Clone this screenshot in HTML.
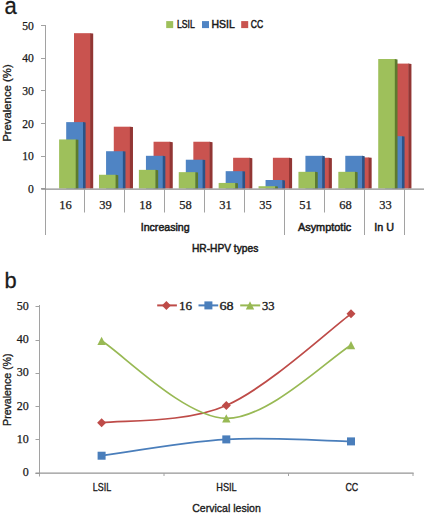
<!DOCTYPE html>
<html><head><meta charset="utf-8"><style>
html,body{margin:0;padding:0;background:#fff;}
body{width:427px;height:513px;overflow:hidden;}
svg{display:block;}
</style></head><body>
<svg width="427" height="513" viewBox="0 0 427 513">
<text transform="translate(4.6 13.8) scale(0.9 1)" font-size="24.5" stroke="#1a1a1a" stroke-width="0.3" fill="#1a1a1a" font-family='"Liberation Sans", sans-serif'>a</text>
<line x1="45.5" y1="25" x2="45.5" y2="235" stroke="#a2a2a2" stroke-width="1"/>
<line x1="41" y1="188.50" x2="45.5" y2="188.50" stroke="#a2a2a2" stroke-width="1"/>
<text x="33.9" y="193.0" font-size="11.6" text-anchor="end" font-weight="normal" fill="#1a1a1a" font-family='"Liberation Serif", serif' stroke="#1a1a1a" stroke-width="0.25">0</text>
<line x1="41" y1="156.50" x2="45.5" y2="156.50" stroke="#a2a2a2" stroke-width="1"/>
<text x="33.9" y="160.3" font-size="11.6" text-anchor="end" font-weight="normal" fill="#1a1a1a" font-family='"Liberation Serif", serif' stroke="#1a1a1a" stroke-width="0.25">10</text>
<line x1="41" y1="123.50" x2="45.5" y2="123.50" stroke="#a2a2a2" stroke-width="1"/>
<text x="33.9" y="127.6" font-size="11.6" text-anchor="end" font-weight="normal" fill="#1a1a1a" font-family='"Liberation Serif", serif' stroke="#1a1a1a" stroke-width="0.25">20</text>
<line x1="41" y1="90.50" x2="45.5" y2="90.50" stroke="#a2a2a2" stroke-width="1"/>
<text x="33.9" y="94.9" font-size="11.6" text-anchor="end" font-weight="normal" fill="#1a1a1a" font-family='"Liberation Serif", serif' stroke="#1a1a1a" stroke-width="0.25">30</text>
<line x1="41" y1="58.50" x2="45.5" y2="58.50" stroke="#a2a2a2" stroke-width="1"/>
<text x="33.9" y="62.19999999999999" font-size="11.6" text-anchor="end" font-weight="normal" fill="#1a1a1a" font-family='"Liberation Serif", serif' stroke="#1a1a1a" stroke-width="0.25">40</text>
<line x1="41" y1="25.50" x2="45.5" y2="25.50" stroke="#a2a2a2" stroke-width="1"/>
<text x="33.9" y="29.5" font-size="11.6" text-anchor="end" font-weight="normal" fill="#1a1a1a" font-family='"Liberation Serif", serif' stroke="#1a1a1a" stroke-width="0.25">50</text>
<text x="10.8" y="103.1" font-size="10" text-anchor="middle" font-weight="normal" fill="#1a1a1a" font-family='"Liberation Sans", sans-serif' stroke="#1a1a1a" stroke-width="0.3" textLength="77.5" lengthAdjust="spacingAndGlyphs" transform="rotate(-90 10.8 103.1)">Prevalence (%)</text>
<rect x="74.00" y="33.18" width="16.5" height="155.32" fill="#c9534f"/>
<polygon points="90.10,33.18 93.20,33.58 93.20,188.5 90.10,188.5" fill="#923634"/>
<rect x="66.20" y="122.12" width="17.2" height="66.38" fill="#4f84c4"/>
<polygon points="83.00,122.12 85.60,122.52 85.60,188.5 83.00,188.5" fill="#2b5387"/>
<rect x="59.10" y="139.45" width="17" height="49.05" fill="#9ec05b"/>
<polygon points="75.70,139.45 78.40,139.85 78.40,188.5 75.70,188.5" fill="#5d7a2e"/>
<rect x="113.78" y="126.70" width="16.5" height="61.80" fill="#c9534f"/>
<polygon points="129.88,126.70 132.98,127.10 132.98,188.5 129.88,188.5" fill="#923634"/>
<rect x="106.07" y="151.22" width="17.2" height="37.28" fill="#4f84c4"/>
<polygon points="122.87,151.22 125.47,151.62 125.47,188.5 122.87,188.5" fill="#2b5387"/>
<rect x="98.99" y="174.77" width="17" height="13.73" fill="#9ec05b"/>
<polygon points="115.59,174.77 118.29,175.17 118.29,188.5 115.59,188.5" fill="#5d7a2e"/>
<rect x="153.56" y="141.74" width="16.5" height="46.76" fill="#c9534f"/>
<polygon points="169.66,141.74 172.76,142.14 172.76,188.5 169.66,188.5" fill="#923634"/>
<rect x="145.94" y="155.80" width="17.2" height="32.70" fill="#4f84c4"/>
<polygon points="162.74,155.80 165.34,156.20 165.34,188.5 162.74,188.5" fill="#2b5387"/>
<rect x="138.88" y="169.86" width="17" height="18.64" fill="#9ec05b"/>
<polygon points="155.48,169.86 158.18,170.26 158.18,188.5 155.48,188.5" fill="#5d7a2e"/>
<rect x="193.34" y="141.74" width="16.5" height="46.76" fill="#c9534f"/>
<polygon points="209.44,141.74 212.54,142.14 212.54,188.5 209.44,188.5" fill="#923634"/>
<rect x="185.81" y="159.72" width="17.2" height="28.78" fill="#4f84c4"/>
<polygon points="202.61,159.72 205.21,160.12 205.21,188.5 202.61,188.5" fill="#2b5387"/>
<rect x="178.77" y="172.15" width="17" height="16.35" fill="#9ec05b"/>
<polygon points="195.37,172.15 198.07,172.55 198.07,188.5 195.37,188.5" fill="#5d7a2e"/>
<rect x="233.12" y="157.76" width="16.5" height="30.74" fill="#c9534f"/>
<polygon points="249.22,157.76 252.32,158.16 252.32,188.5 249.22,188.5" fill="#923634"/>
<rect x="225.68" y="171.17" width="17.2" height="17.33" fill="#4f84c4"/>
<polygon points="242.48,171.17 245.08,171.57 245.08,188.5 242.48,188.5" fill="#2b5387"/>
<rect x="218.66" y="182.94" width="17" height="5.56" fill="#9ec05b"/>
<polygon points="235.26,182.94 237.96,183.34 237.96,188.5 235.26,188.5" fill="#5d7a2e"/>
<rect x="272.90" y="157.76" width="16.5" height="30.74" fill="#c9534f"/>
<polygon points="289.00,157.76 292.10,158.16 292.10,188.5 289.00,188.5" fill="#923634"/>
<rect x="265.55" y="180.00" width="17.2" height="8.50" fill="#4f84c4"/>
<polygon points="282.35,180.00 284.95,180.40 284.95,188.5 282.35,188.5" fill="#2b5387"/>
<rect x="258.55" y="186.21" width="17" height="2.29" fill="#9ec05b"/>
<polygon points="275.15,186.21 277.85,186.61 277.85,188.5 275.15,188.5" fill="#5d7a2e"/>
<rect x="312.68" y="157.76" width="16.5" height="30.74" fill="#c9534f"/>
<polygon points="328.78,157.76 331.88,158.16 331.88,188.5 328.78,188.5" fill="#923634"/>
<rect x="305.42" y="155.80" width="17.2" height="32.70" fill="#4f84c4"/>
<polygon points="322.22,155.80 324.82,156.20 324.82,188.5 322.22,188.5" fill="#2b5387"/>
<rect x="298.44" y="171.82" width="17" height="16.68" fill="#9ec05b"/>
<polygon points="315.04,171.82 317.74,172.22 317.74,188.5 315.04,188.5" fill="#5d7a2e"/>
<rect x="352.46" y="157.44" width="16.5" height="31.06" fill="#c9534f"/>
<polygon points="368.56,157.44 371.66,157.84 371.66,188.5 368.56,188.5" fill="#923634"/>
<rect x="345.29" y="155.80" width="17.2" height="32.70" fill="#4f84c4"/>
<polygon points="362.09,155.80 364.69,156.20 364.69,188.5 362.09,188.5" fill="#2b5387"/>
<rect x="338.33" y="171.82" width="17" height="16.68" fill="#9ec05b"/>
<polygon points="354.93,171.82 357.63,172.22 357.63,188.5 354.93,188.5" fill="#5d7a2e"/>
<rect x="392.24" y="63.59" width="16.5" height="124.91" fill="#c9534f"/>
<polygon points="408.34,63.59 411.44,63.99 411.44,188.5 408.34,188.5" fill="#923634"/>
<rect x="385.16" y="136.18" width="17.2" height="52.32" fill="#4f84c4"/>
<polygon points="401.96,136.18 404.56,136.58 404.56,188.5 401.96,188.5" fill="#2b5387"/>
<rect x="378.22" y="59.01" width="17" height="129.49" fill="#9ec05b"/>
<polygon points="394.82,59.01 397.52,59.41 397.52,188.5 394.82,188.5" fill="#5d7a2e"/>
<line x1="41.2" y1="189.2" x2="424" y2="189.2" stroke="#8e8e8e" stroke-width="1.3"/>
<line x1="84.5" y1="189" x2="84.5" y2="212.5" stroke="#a2a2a2" stroke-width="1"/>
<line x1="124.5" y1="189" x2="124.5" y2="212.5" stroke="#a2a2a2" stroke-width="1"/>
<line x1="164.5" y1="189" x2="164.5" y2="212.5" stroke="#a2a2a2" stroke-width="1"/>
<line x1="204.5" y1="189" x2="204.5" y2="212.5" stroke="#a2a2a2" stroke-width="1"/>
<line x1="244.5" y1="189" x2="244.5" y2="212.5" stroke="#a2a2a2" stroke-width="1"/>
<line x1="284.5" y1="189" x2="284.5" y2="235" stroke="#a2a2a2" stroke-width="1"/>
<line x1="324.5" y1="189" x2="324.5" y2="212.5" stroke="#a2a2a2" stroke-width="1"/>
<line x1="364.5" y1="189" x2="364.5" y2="235" stroke="#a2a2a2" stroke-width="1"/>
<line x1="404.5" y1="189" x2="404.5" y2="235" stroke="#a2a2a2" stroke-width="1"/>
<text x="65.5" y="209" font-size="12.5" text-anchor="middle" font-weight="normal" fill="#1a1a1a" font-family='"Liberation Serif", serif' stroke="#1a1a1a" stroke-width="0.25">16</text>
<text x="105.5" y="209" font-size="12.5" text-anchor="middle" font-weight="normal" fill="#1a1a1a" font-family='"Liberation Serif", serif' stroke="#1a1a1a" stroke-width="0.25">39</text>
<text x="145.5" y="209" font-size="12.5" text-anchor="middle" font-weight="normal" fill="#1a1a1a" font-family='"Liberation Serif", serif' stroke="#1a1a1a" stroke-width="0.25">18</text>
<text x="185.5" y="209" font-size="12.5" text-anchor="middle" font-weight="normal" fill="#1a1a1a" font-family='"Liberation Serif", serif' stroke="#1a1a1a" stroke-width="0.25">58</text>
<text x="225.5" y="209" font-size="12.5" text-anchor="middle" font-weight="normal" fill="#1a1a1a" font-family='"Liberation Serif", serif' stroke="#1a1a1a" stroke-width="0.25">31</text>
<text x="265.5" y="209" font-size="12.5" text-anchor="middle" font-weight="normal" fill="#1a1a1a" font-family='"Liberation Serif", serif' stroke="#1a1a1a" stroke-width="0.25">35</text>
<text x="305.5" y="209" font-size="12.5" text-anchor="middle" font-weight="normal" fill="#1a1a1a" font-family='"Liberation Serif", serif' stroke="#1a1a1a" stroke-width="0.25">51</text>
<text x="345.5" y="209" font-size="12.5" text-anchor="middle" font-weight="normal" fill="#1a1a1a" font-family='"Liberation Serif", serif' stroke="#1a1a1a" stroke-width="0.25">68</text>
<text x="385.5" y="209" font-size="12.5" text-anchor="middle" font-weight="normal" fill="#1a1a1a" font-family='"Liberation Serif", serif' stroke="#1a1a1a" stroke-width="0.25">33</text>
<text x="165.2" y="231" font-size="11" text-anchor="middle" font-weight="normal" fill="#1a1a1a" font-family='"Liberation Sans", sans-serif' stroke="#1a1a1a" stroke-width="0.5" textLength="49" lengthAdjust="spacingAndGlyphs">Increasing</text>
<text x="324.6" y="231" font-size="11" text-anchor="middle" font-weight="normal" fill="#1a1a1a" font-family='"Liberation Sans", sans-serif' stroke="#1a1a1a" stroke-width="0.5" textLength="53.4" lengthAdjust="spacingAndGlyphs">Asymptotic</text>
<text x="384.2" y="231" font-size="11" text-anchor="middle" font-weight="normal" fill="#1a1a1a" font-family='"Liberation Sans", sans-serif' stroke="#1a1a1a" stroke-width="0.5" textLength="19.7" lengthAdjust="spacingAndGlyphs">In U</text>
<text x="225.1" y="252" font-size="11" text-anchor="middle" font-weight="normal" fill="#1a1a1a" font-family='"Liberation Sans", sans-serif' stroke="#1a1a1a" stroke-width="0.5" textLength="66.4" lengthAdjust="spacingAndGlyphs">HR-HPV types</text>
<rect x="166.2" y="21.1" width="7" height="7" fill="#9ec05b"/>
<text x="177" y="28.1" font-size="11" text-anchor="start" font-weight="normal" fill="#1a1a1a" font-family='"Liberation Sans", sans-serif' stroke="#1a1a1a" stroke-width="0.5" textLength="17.8" lengthAdjust="spacingAndGlyphs">LSIL</text>
<rect x="202" y="21.1" width="7" height="7" fill="#4f84c4"/>
<text x="211.5" y="28.1" font-size="11" text-anchor="start" font-weight="normal" fill="#1a1a1a" font-family='"Liberation Sans", sans-serif' stroke="#1a1a1a" stroke-width="0.5" textLength="23.2" lengthAdjust="spacingAndGlyphs">HSIL</text>
<rect x="241.2" y="21.1" width="7" height="7" fill="#c9534f"/>
<text x="250.7" y="28.1" font-size="11" text-anchor="start" font-weight="normal" fill="#1a1a1a" font-family='"Liberation Sans", sans-serif' stroke="#1a1a1a" stroke-width="0.5" textLength="12.4" lengthAdjust="spacingAndGlyphs">CC</text>
<text transform="translate(4.4 288.1) scale(0.97 1)" font-size="22.5" stroke="#1a1a1a" stroke-width="0.3" fill="#1a1a1a" font-family='"Liberation Sans", sans-serif'>b</text>
<line x1="39.5" y1="305" x2="39.5" y2="476.5" stroke="#a2a2a2" stroke-width="1"/>
<line x1="35.5" y1="473.50" x2="39.5" y2="473.50" stroke="#a2a2a2" stroke-width="1"/>
<text x="28.8" y="476.2" font-size="12" text-anchor="end" font-weight="normal" fill="#1a1a1a" font-family='"Liberation Serif", serif' stroke="#1a1a1a" stroke-width="0.25">0</text>
<line x1="35.5" y1="439.50" x2="39.5" y2="439.50" stroke="#a2a2a2" stroke-width="1"/>
<text x="28.8" y="442.9" font-size="12" text-anchor="end" font-weight="normal" fill="#1a1a1a" font-family='"Liberation Serif", serif' stroke="#1a1a1a" stroke-width="0.25">10</text>
<line x1="35.5" y1="406.50" x2="39.5" y2="406.50" stroke="#a2a2a2" stroke-width="1"/>
<text x="28.8" y="409.6" font-size="12" text-anchor="end" font-weight="normal" fill="#1a1a1a" font-family='"Liberation Serif", serif' stroke="#1a1a1a" stroke-width="0.25">20</text>
<line x1="35.5" y1="373.50" x2="39.5" y2="373.50" stroke="#a2a2a2" stroke-width="1"/>
<text x="28.8" y="376.29999999999995" font-size="12" text-anchor="end" font-weight="normal" fill="#1a1a1a" font-family='"Liberation Serif", serif' stroke="#1a1a1a" stroke-width="0.25">30</text>
<line x1="35.5" y1="340.50" x2="39.5" y2="340.50" stroke="#a2a2a2" stroke-width="1"/>
<text x="28.8" y="343.0" font-size="12" text-anchor="end" font-weight="normal" fill="#1a1a1a" font-family='"Liberation Serif", serif' stroke="#1a1a1a" stroke-width="0.25">40</text>
<line x1="35.5" y1="306.50" x2="39.5" y2="306.50" stroke="#a2a2a2" stroke-width="1"/>
<text x="28.8" y="309.7" font-size="12" text-anchor="end" font-weight="normal" fill="#1a1a1a" font-family='"Liberation Serif", serif' stroke="#1a1a1a" stroke-width="0.25">50</text>
<text x="10.9" y="389.7" font-size="10" text-anchor="middle" font-weight="normal" fill="#1a1a1a" font-family='"Liberation Sans", sans-serif' stroke="#1a1a1a" stroke-width="0.3" textLength="72.5" lengthAdjust="spacingAndGlyphs" transform="rotate(-90 10.9 389.7)">Prevalence (%)</text>
<line x1="35.5" y1="473.1" x2="413.6" y2="473.1" stroke="#959595" stroke-width="1.4"/>
<line x1="164" y1="473" x2="164" y2="476" stroke="#a2a2a2" stroke-width="1"/>
<line x1="288.5" y1="473" x2="288.5" y2="476" stroke="#a2a2a2" stroke-width="1"/>
<line x1="413" y1="473" x2="413" y2="476" stroke="#a2a2a2" stroke-width="1"/>
<text x="102" y="491.4" font-size="11" text-anchor="middle" font-weight="normal" fill="#1a1a1a" font-family='"Liberation Sans", sans-serif' stroke="#1a1a1a" stroke-width="0.35" textLength="18.3" lengthAdjust="spacingAndGlyphs">LSIL</text>
<text x="226.5" y="491.4" font-size="11" text-anchor="middle" font-weight="normal" fill="#1a1a1a" font-family='"Liberation Sans", sans-serif' stroke="#1a1a1a" stroke-width="0.35" textLength="20.4" lengthAdjust="spacingAndGlyphs">HSIL</text>
<text x="351.8" y="491.4" font-size="11" text-anchor="middle" font-weight="normal" fill="#1a1a1a" font-family='"Liberation Sans", sans-serif' stroke="#1a1a1a" stroke-width="0.35" textLength="12.8" lengthAdjust="spacingAndGlyphs">CC</text>
<text x="226.5" y="511.8" font-size="11" text-anchor="middle" font-weight="normal" fill="#1a1a1a" font-family='"Liberation Sans", sans-serif' stroke="#1a1a1a" stroke-width="0.35" textLength="68.6" lengthAdjust="spacingAndGlyphs">Cervical lesion</text>
<path d="M101.60,422.75 C122.38,419.86 184.73,423.58 226.30,405.43 C267.87,387.29 330.22,329.12 351.00,313.86" fill="none" stroke="#be4b48" stroke-width="1.75"/>
<path d="M101.60,455.72 C122.38,453.00 184.73,441.79 226.30,439.40 C267.87,437.01 330.22,441.06 351.00,441.40" fill="none" stroke="#4a7ebb" stroke-width="1.75"/>
<path d="M101.60,340.83 C122.38,353.76 184.73,417.70 226.30,418.42 C267.87,419.14 330.22,357.37 351.00,345.16" fill="none" stroke="#98b954" stroke-width="1.75"/>
<polygon points="101.6,418.25 106.1,422.75 101.6,427.25 97.1,422.75" fill="#be4b48"/>
<polygon points="226.3,400.93399999999997 230.8,405.43399999999997 226.3,409.93399999999997 221.8,405.43399999999997" fill="#be4b48"/>
<polygon points="351,309.359 355.5,313.859 351,318.359 346.5,313.859" fill="#be4b48"/>
<rect x="97.6" y="451.717" width="8" height="8" fill="#4a7ebb"/>
<rect x="222.3" y="435.4" width="8" height="8" fill="#4a7ebb"/>
<rect x="347" y="437.39799999999997" width="8" height="8" fill="#4a7ebb"/>
<polygon points="101.6,336.632 105.8,345.032 97.39999999999999,345.032" fill="#98b954"/>
<polygon points="226.3,414.221 230.5,422.621 222.10000000000002,422.621" fill="#98b954"/>
<polygon points="351,340.961 355.2,349.361 346.8,349.361" fill="#98b954"/>
<line x1="157.2" y1="305.4" x2="176.9" y2="305.4" stroke="#be4b48" stroke-width="2"/>
<polygon points="166.4,300.9 170.9,305.4 166.4,309.9 161.9,305.4" fill="#be4b48"/>
<text x="178.9" y="309.5" font-size="11.5" text-anchor="start" font-weight="normal" fill="#1a1a1a" font-family='"Liberation Serif", serif' stroke="#1a1a1a" stroke-width="0.3" textLength="13.1" lengthAdjust="spacingAndGlyphs">16</text>
<line x1="198.5" y1="305.4" x2="218.2" y2="305.4" stroke="#4a7ebb" stroke-width="2"/>
<rect x="204.4" y="301.4" width="8" height="8" fill="#4a7ebb"/>
<text x="219.5" y="309.5" font-size="11.5" text-anchor="start" font-weight="normal" fill="#1a1a1a" font-family='"Liberation Serif", serif' stroke="#1a1a1a" stroke-width="0.3" textLength="14.1" lengthAdjust="spacingAndGlyphs">68</text>
<line x1="240.2" y1="305.4" x2="260.2" y2="305.4" stroke="#98b954" stroke-width="2"/>
<polygon points="250,301.2 254.2,309.59999999999997 245.8,309.59999999999997" fill="#98b954"/>
<text x="262" y="309.5" font-size="11.5" text-anchor="start" font-weight="normal" fill="#1a1a1a" font-family='"Liberation Serif", serif' stroke="#1a1a1a" stroke-width="0.3" textLength="12.6" lengthAdjust="spacingAndGlyphs">33</text>
</svg>
</body></html>
